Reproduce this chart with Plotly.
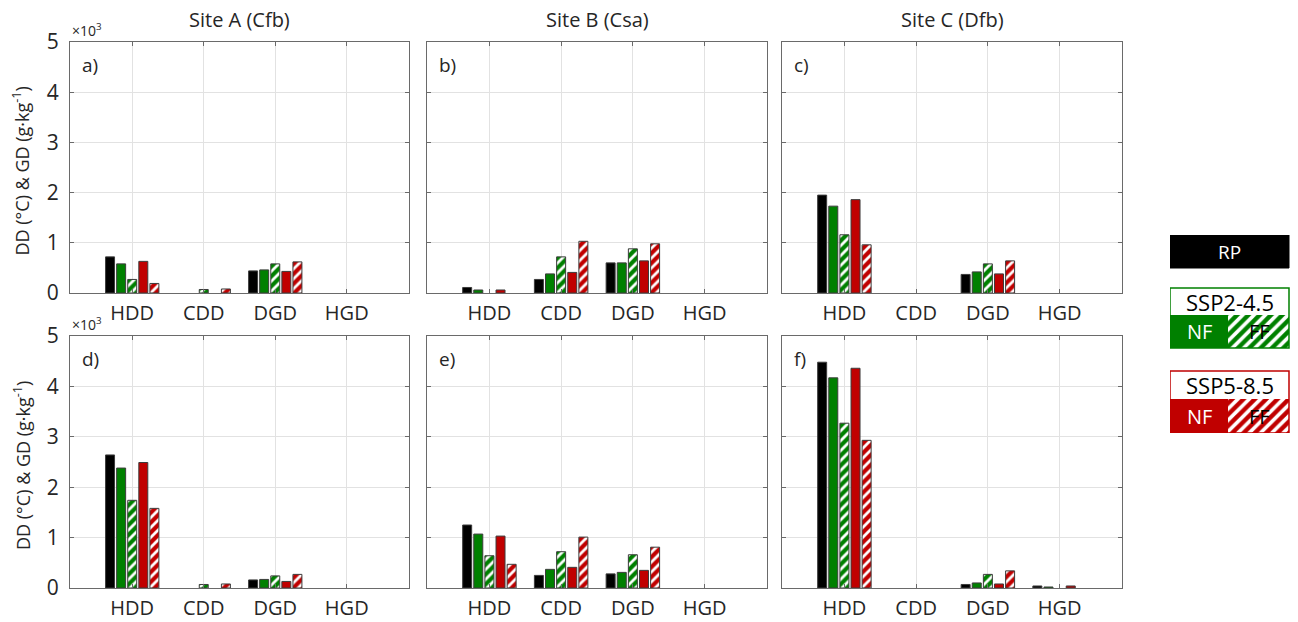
import plotly.graph_objects as go

# Index categories shown on every panel
categories = ["HDD", "CDD", "DGD", "HGD"]
sites = ["Site A (Cfb)", "Site B (Csa)", "Site C (Dfb)"]
panel_tags = ["a)", "b)", "c)", "d)", "e)", "f)"]
series = ["RP", "SSP2-4.5 NF", "SSP2-4.5 FF", "SSP5-8.5 NF", "SSP5-8.5 FF"]

# Degree-days (°C) and grain-days (g/kg); rows follow `series`, columns follow `categories`
panel_a = [
    [720, 0, 440, 0],
    [580, 0, 460, 0],
    [270, 70, 580, 0],
    [630, 0, 430, 0],
    [190, 80, 620, 0],
]
panel_b = [
    [110, 270, 600, 0],
    [60, 380, 600, 0],
    [0, 720, 880, 0],
    [60, 410, 640, 0],
    [0, 1030, 980, 0],
]
panel_c = [
    [1950, 0, 370, 0],
    [1730, 0, 420, 0],
    [1160, 0, 580, 0],
    [1860, 0, 380, 0],
    [960, 0, 640, 0],
]
panel_d = [
    [2640, 0, 160, 0],
    [2380, 0, 170, 0],
    [1740, 70, 240, 0],
    [2490, 0, 130, 0],
    [1580, 80, 270, 0],
]
panel_e = [
    [1250, 250, 280, 0],
    [1070, 370, 310, 0],
    [640, 720, 660, 0],
    [1030, 410, 350, 0],
    [470, 1010, 810, 0],
]
panel_f = [
    [4480, 0, 70, 40],
    [4170, 0, 100, 20],
    [3270, 0, 270, 0],
    [4360, 0, 80, 40],
    [2930, 0, 340, 0],
]
panels = [panel_a, panel_b, panel_c, panel_d, panel_e, panel_f]

y_ticks = [0, 1000, 2000, 3000, 4000, 5000]
y_tick_text = ["0", "1", "2", "3", "4", "5"]

BLACK = "#000000"
GREEN = "#008000"
RED = "#C00000"
EDGE = "#3c3c3c"
AXIS = "#6a6a6a"
GRID = "#e2e2e2"
TEXT = "#262626"
FONT = "Open Sans"

W, H = 1298, 622
col_px = [(70, 409), (427, 767), (782, 1122)]
row_px = [(42, 293), (336, 588)]


def px_x(a, b):
    return [a / W, b / W]


def px_y(top, bottom):
    return [1 - bottom / H, 1 - top / H]


def bar_marker(s):
    if s == 0:
        return dict(color=BLACK, line=dict(color=EDGE, width=1))
    col = GREEN if s in (1, 2) else RED
    if s in (1, 3):
        return dict(color=col, line=dict(color=EDGE, width=1))
    return dict(
        color="white",
        line=dict(color=EDGE, width=1),
        pattern=dict(shape="/", fgcolor=col, bgcolor="white", size=7,
                     solidity=0.6, fgopacity=1),
    )


fig = go.Figure()
annotations = []

for p, panel in enumerate(panels):
    row, col = divmod(p, 3)
    k = "" if p == 0 else str(p + 1)
    for s, name in enumerate(series):
        fig.add_trace(go.Bar(
            x=categories,
            y=[v if v > 0 else None for v in panel[s]],
            name=name,
            xaxis="x" + k,
            yaxis="y" + k,
            marker=bar_marker(s),
            showlegend=False,
        ))
    fig.layout["xaxis" + k] = dict(
        domain=px_x(*col_px[col]), anchor="y" + k, type="category",
        range=[-0.87, 3.87], showline=True, linecolor=AXIS, linewidth=1,
        mirror="ticks", ticks="inside", ticklen=4, tickcolor=AXIS,
        showgrid=True, gridcolor=GRID, gridwidth=1, automargin=False,
        tickfont=dict(family=FONT, size=20, color=TEXT), ticklabelstandoff=2,
        fixedrange=True,
    )
    fig.layout["yaxis" + k] = dict(
        domain=px_y(*row_px[row]), anchor="x" + k, range=[0, 5000],
        tickvals=y_ticks, ticktext=y_tick_text, showticklabels=(col == 0),
        showline=True, linecolor=AXIS, linewidth=1, mirror="ticks",
        ticks="inside", ticklen=4, tickcolor=AXIS, showgrid=True,
        gridcolor=GRID, gridwidth=1, zeroline=False, automargin=False,
        tickfont=dict(family=FONT, size=21, color=TEXT), ticklabelstandoff=6,
        fixedrange=True,
    )
    # panel tag
    annotations.append(dict(
        text=panel_tags[p], xref=f"x{k} domain", yref=f"y{k} domain",
        x=0.03, y=0.91, xanchor="left", yanchor="middle", showarrow=False,
        font=dict(family=FONT, size=19, color=TEXT),
    ))
    if col == 0:
        annotations.append(dict(
            text="×10<sup>3</sup>", xref=f"x{k} domain", yref=f"y{k} domain",
            x=0.0, y=1.0, xanchor="left", yanchor="bottom", showarrow=False,
            font=dict(family=FONT, size=14, color=TEXT),
        ))
        top, bottom = row_px[row]
        annotations.append(dict(
            text="DD (°C) & GD (g·kg<sup>-1</sup>)", xref="paper", yref="paper",
            x=22 / W, y=1 - ((top + bottom) / 2 + 4) / H, textangle=-90,
            xanchor="center", yanchor="middle", showarrow=False,
            font=dict(family=FONT, size=18, color=TEXT),
        ))
    if row == 0:
        annotations.append(dict(
            text=sites[col], xref=f"x{k} domain", yref="paper",
            x=0.5, y=1 - 19 / H, xanchor="center", yanchor="middle",
            showarrow=False, font=dict(family=FONT, size=20, color=TEXT),
        ))

# Key on the right, drawn on its own hidden axis (units: px inside the key area)
fig.layout["xaxis7"] = dict(domain=px_x(1170, 1290), anchor="y7", range=[0, 120],
                            visible=False, fixedrange=True, automargin=False)
fig.layout["yaxis7"] = dict(domain=px_y(235, 433), anchor="x7", range=[198, 0],
                            visible=False, fixedrange=True, automargin=False)

shapes = [
    dict(type="rect", xref="x7", yref="y7", x0=0, x1=119, y0=0, y1=33,
         fillcolor=BLACK, line=dict(color=BLACK, width=1), layer="below"),
]
key_rows = [("SSP2-4.5", GREEN, 53, 80, 113), ("SSP5-8.5", RED, 136, 164, 198)]
for label, col, y0, ym, y1 in key_rows:
    shapes.append(dict(type="rect", xref="x7", yref="y7", x0=0, x1=58, y0=ym, y1=y1,
                       fillcolor=col, line=dict(width=0), layer="below"))
    shapes.append(dict(type="rect", xref="x7", yref="y7", x0=0, x1=119, y0=y0, y1=y1,
                       fillcolor="rgba(0,0,0,0)", line=dict(color=col, width=1.5),
                       layer="above"))
    fig.add_trace(go.Scatter(
        x=[58, 119, 119, 58, 58], y=[ym, ym, y1, y1, ym], xaxis="x7", yaxis="y7",
        mode="lines", line=dict(width=0), fill="toself",
        fillpattern=dict(shape="/", fgcolor=col, bgcolor="white", size=8,
                         solidity=0.55, fgopacity=1),
        showlegend=False, hoverinfo="skip",
    ))
    annotations += [
        dict(text=label, xref="x7", yref="y7", x=59.5, y=(y0 + ym) / 2,
             showarrow=False, font=dict(family=FONT, size=22, color=BLACK)),
        dict(text="NF", xref="x7", yref="y7", x=29, y=(ym + y1) / 2,
             showarrow=False, font=dict(family=FONT, size=20, color="white")),
        dict(text="FF", xref="x7", yref="y7", x=89, y=(ym + y1) / 2,
             showarrow=False, font=dict(family=FONT, size=20, color=BLACK)),
    ]
annotations.append(dict(text="RP", xref="x7", yref="y7", x=59.5, y=16.5,
                        showarrow=False, font=dict(family=FONT, size=19, color="white")))

fig.update_layout(
    width=W, height=H, autosize=False,
    margin=dict(l=0, r=0, t=0, b=0),
    paper_bgcolor="white", plot_bgcolor="white",
    barmode="group", bargap=0.225, bargroupgap=0.19,
    annotations=annotations, shapes=shapes,
    font=dict(family=FONT, color=TEXT),
)

fig.write_html("out.html")
